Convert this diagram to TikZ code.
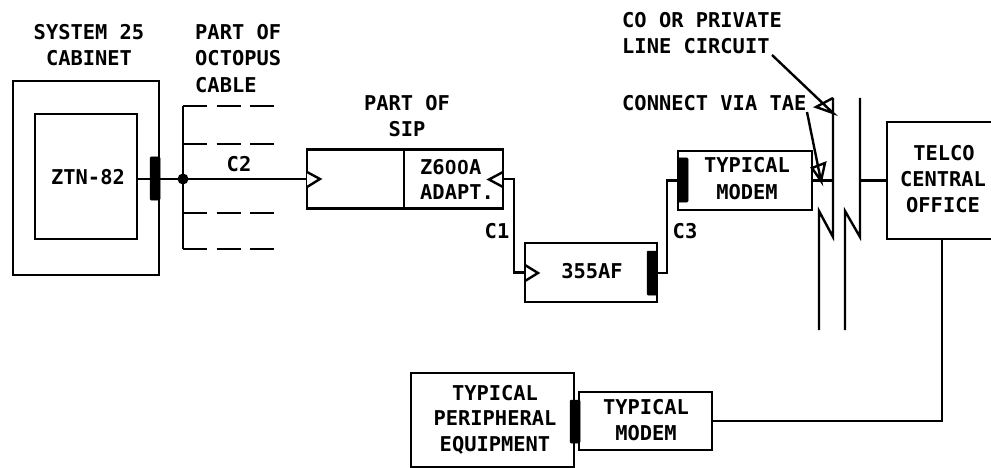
\documentclass[tikz,border=0pt]{standalone}
\usepackage{fontspec}
\setmainfont{DejaVu Sans Mono}
\newfontfamily\zerofont{Liberation Sans}
\newcommand{\zz}{\makebox[0.6em]{\zerofont 0}}
\tikzset{
  box/.style={draw,line width=2.4pt,inner sep=0pt,fill=white},
  bar/.style={fill=black,draw=black,line width=0.5pt,inner sep=0pt,rounded corners=1pt,minimum width=10pt},
  wire/.style={line width=2.4pt},
  dashwire/.style={line width=2.4pt,dash pattern=on 24pt off 9.5pt},
  txt/.style={inner sep=0pt,font=\fontsize{20.4}{20.4}\selectfont\bfseries},
  pt/.style={inner sep=0pt,minimum size=0pt},
}
\begin{document}
\begin{tikzpicture}[x=1pt,y=-1pt]
\useasboundingbox (0,0) rectangle (991,468);
% boxes
\node[box,minimum width=146pt,minimum height=194pt] (cab) at (86,178) {};
\node[box,minimum width=102pt,minimum height=125pt] (ztn) at (86,176.5) {};
\node[box,minimum width=196pt,minimum height=59pt] (sip) at (405,179) {};
\node[box,minimum width=132pt,minimum height=59pt] (af) at (591,272.5) {};
\node[box,minimum width=134pt,minimum height=59pt] (modema) at (745,180.5) {};
\node[box,minimum width=110pt,minimum height=117pt] (telco) at (942,180.5) {};
\node[box,minimum width=163pt,minimum height=94pt] (periph) at (492.5,420) {};
\node[box,minimum width=133pt,minimum height=58pt] (modemb) at (645.5,421) {};
% divider of SIP
\coordinate (d1) at (404,149);
\coordinate (d2) at (404,208);
\draw[wire] (d1) -- (d2);
% bars
\node[bar,minimum height=43pt] (b1) at (155,178.5) {};
\node[bar,minimum height=44pt] (b2) at (652,273) {};
\node[bar,minimum height=44pt] (b3) at (683,180) {};
\node[bar,minimum height=43pt] (b4) at (575,421.5) {};
% octopus cable
\coordinate (dot) at (183,179);
\fill (dot) circle (5.5pt);
\coordinate (vt) at (183,106);
\coordinate (vb) at (183,249);
\draw[wire] (vt) -- (vb);
\draw[wire] (ztn.east |- dot) -- (dot);
\draw[wire] (dot) -- (sip.west);
\coordinate (o1a) at (183,144);
\coordinate (o2a) at (183,213);
\coordinate (e1) at (274,106);
\coordinate (e2) at (274,144);
\coordinate (e3) at (274,213);
\coordinate (e4) at (274,249);
\draw[dashwire] (vt) -- (e1);
\draw[dashwire] (o1a) -- (e2);
\draw[dashwire] (o2a) -- (e3);
\draw[dashwire] (vb) -- (e4);
% triangles
\draw[wire,fill=white] (307,172) -- (320,179) -- (307,187);
\draw[wire] (503,172) -- (489,179.5) -- (503,187);
\draw[wire] (525,265) -- (538,273) -- (525,281);
% C1
\coordinate (c1a) at (514,179);
\coordinate (c1b) at (514,272.5);
\draw[wire] (sip.east) -- (c1a) -- (c1b) -- (af.west);
% C3
\coordinate (c3a) at (667,273);
\coordinate (c3b) at (667,180.5);
\draw[wire] (b2.east) -- (c3a) -- (c3b) -- (modema.west);
% lines
\coordinate (l1t) at (833,98);
\coordinate (l1k) at (833,237);
\coordinate (l1j) at (819,211);
\coordinate (l1b) at (819,330);
\coordinate (l2t) at (860,98);
\coordinate (l2k) at (860,237);
\coordinate (l2j) at (845,211);
\coordinate (l2b) at (845,330);
\draw[wire] (l1t) -- (l1k) -- (l1j) -- (l1b);
\draw[wire] (l2t) -- (l2k) -- (l2j) -- (l2b);
\coordinate (m1) at (833,180.5);
\coordinate (m2) at (860,180.5);
\draw[wire] (modema.east) -- (m1);
\draw[wire] (m2) -- (telco.west);
% modem b to telco
\coordinate (tk) at (942,421);
\draw[wire] (telco.south) -- (tk) -- (modemb.east);
% labels
\node[txt] (t1) at (89,32) {SYSTEM 25};
\node[txt] (t2) at (89,58) {CABINET};
\node[txt,anchor=west] (t3) at (195,32) {PART OF};
\node[txt,anchor=west] (t4) at (195,58) {OCTOPUS};
\node[txt,anchor=west] (t5) at (195,85) {CABLE};
\node[txt] (t6) at (88,177) {ZTN-82};
\node[txt] (t7) at (239,164) {C2};
\node[txt] (t8) at (407,103) {PART OF};
\node[txt] (t9) at (407,129) {SIP};
\node[txt,anchor=west] (t10) at (420,167) {Z6\zz\zz A};
\node[txt,anchor=west] (t11) at (420,192) {ADAPT.};
\node[txt] (t12) at (497,231) {C1};
\node[txt] (t13) at (592,271) {355AF};
\node[txt] (t14) at (685,231) {C3};
\node[txt] (t15) at (747,165) {TYPICAL};
\node[txt] (t16) at (747,192) {MODEM};
\node[txt] (t17) at (944,153) {TELCO};
\node[txt] (t18) at (943,179) {CENTRAL};
\node[txt] (t19) at (943,205) {OFFICE};
\node[txt,anchor=west] (t20) at (622,20) {CO OR PRIVATE};
\node[txt,anchor=west] (t21) at (622,46) {LINE CIRCUIT};
\node[txt,anchor=west] (t22) at (622,103) {CONNECT VIA TAE};
\node[txt] (t23) at (495,393) {TYPICAL};
\node[txt] (t24) at (495,418) {PERIPHERAL};
\node[txt] (t25) at (495,445) {EQUIPMENT};
\node[txt] (t26) at (646,407) {TYPICAL};
\node[txt] (t27) at (646,433) {MODEM};
% leader arrows
\coordinate (a1s) at (772,55);
\coordinate (a1t) at (833,113);
\coordinate (a2s) at (807,112);
\coordinate (a2t) at (821,181);
\draw[wire] (a1s) -- (a1t) -- (816,107) -- (833,98);
\draw[wire] (a2s) -- (a2t) -- (812,168) -- (825,163) -- (a2t);
\end{tikzpicture}
\end{document}
